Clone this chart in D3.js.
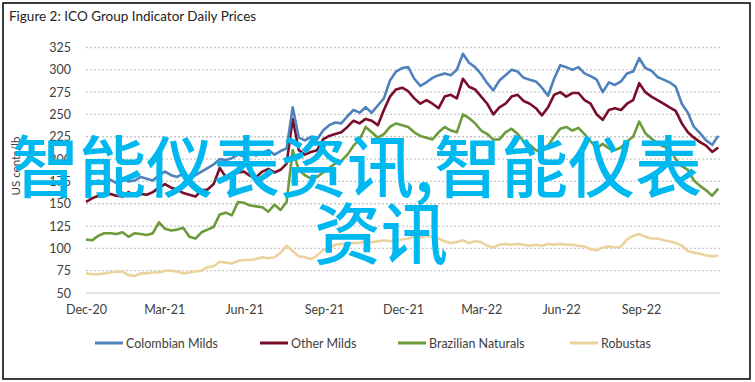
<!DOCTYPE html>
<html><head><meta charset="utf-8">
<script src="https://cdn.jsdelivr.net/npm/d3@7"></script>
<style>body{margin:0;background:#fff}svg{display:block}</style>
</head><body>
<svg id="c" width="755" height="382"></svg>
<script>
const startDate = "2020-12-01";
const seriesNames = ["Colombian Milds", "Other Milds", "Brazilian Naturals", "Robustas"];
const seriesColors = ["#4f81bd", "#7a0e2a", "#6b9b3a", "#ebd39e"];
const yTicks = [50, 75, 100, 125, 150, 175, 200, 225, 250, 275, 300, 325];
const xTickLabels = ["Dec-20","Mar-21","Jun-21","Sep-21","Dec-21","Mar-22","Jun-22","Sep-22"];
const colombianMilds = [168,172,176,174,177,173,178,175,176,180,178,176,182,186,182,180,184,178,182,186,190,194,200,199,201,205,203,206,204,207,210,205,209,212,258,224,221,225,222,232,238,241,240,248,255,252,258,252,260,268,288,298,302,303,290,282,286,291,294,296,294,300,318,308,303,295,285,277,288,294,300,298,291,289,287,280,271,290,305,303,300,303,296,293,289,275,286,283,287,296,298,313,302,299,292,289,286,281,262,252,236,229,221,216,226];
const otherMilds = [152,156,159,160,161,159,158,163,159,161,160,163,168,172,168,166,162,160,158,165,166,172,190,180,182,185,186,181,180,186,189,185,188,195,245,210,205,208,210,222,226,228,230,236,243,240,245,243,238,255,270,278,280,276,268,262,266,262,257,270,272,268,290,281,278,270,262,250,258,262,270,272,265,262,257,249,258,272,275,270,274,274,266,262,250,244,255,257,255,262,266,285,275,270,266,262,258,254,240,230,224,219,215,208,213];
const brazilianNaturals = [110,109,114,117,117,116,118,113,117,116,115,117,129,122,120,121,123,113,111,118,121,124,138,140,137,152,151,148,147,146,141,149,143,152,210,188,182,178,180,185,190,195,198,205,215,222,236,230,224,228,236,240,238,236,230,226,224,222,230,236,232,230,250,246,240,232,228,222,222,230,234,228,220,216,210,208,215,225,234,236,232,235,228,220,212,217,212,210,213,220,225,242,229,223,218,214,212,200,192,188,176,170,165,159,167];
const robustas = [72,71,71,72,73,74,74,70,69,72,72,73,73,75,75,74,72,73,74,75,79,80,85,84,83,86,87,87,88,90,89,90,95,103,97,91,90,88,92,98,100,104,105,104,106,106,108,107,108,109,108,109,110,111,113,112,114,113,111,108,106,107,109,106,108,107,103,101,104,105,104,105,104,103,104,103,105,104,105,104,104,103,102,99,98,101,102,101,102,110,114,116,113,111,111,109,108,106,103,97,95,94,92,91,92];
const seriesValues = [colombianMilds, otherMilds, brazilianNaturals, robustas];

const svg = d3.select("#c");
const font = "Lato, 'Open Sans', sans-serif";
const textCol = "#404040";

svg.append("rect").attr("x",3).attr("y",3).attr("width",747).attr("height",376)
  .attr("fill","#fff").attr("stroke","#000").attr("stroke-width",1.5);

svg.append("text").attr("x",9).attr("y",21).attr("font-family",font).attr("font-size",13.5)
  .attr("fill","#222").text("Figure 2: ICO Group Indicator Daily Prices");

const parse = d3.timeParse("%Y-%m-%d");
const t0 = parse(startDate);
const dates = colombianMilds.map((_, i) => d3.timeDay.offset(t0, 7 * i));

const x = d3.scaleTime().domain([t0, parse("2022-12-01")]).range([86, 720]);
const y = d3.scaleLinear().domain([50, 325]).range([293, 47.5]);

const grid = svg.append("g");
grid.selectAll("line").data(yTicks.filter(v => v > 50)).join("line")
  .attr("x1", 86).attr("x2", 720).attr("y1", d => y(d)).attr("y2", d => y(d))
  .attr("stroke", "#c8c8c8").attr("stroke-width", 1.3).attr("stroke-dasharray", "2,2");

const yAxis = svg.append("g").attr("transform", "translate(86,0)")
  .call(d3.axisLeft(y).tickValues(yTicks).tickSize(0).tickPadding(15));
yAxis.select(".domain").remove();
yAxis.selectAll("text").attr("font-family", font).attr("font-size", 12.5).attr("fill", textCol);

svg.append("line").attr("x1", 86).attr("x2", 720).attr("y1", y(50)).attr("y2", y(50))
  .attr("stroke", "#d9d9d9").attr("stroke-width", 1.3);

const xTickDates = xTickLabels.map(s => d3.timeParse("%b-%y")(s));
const xAxis = svg.append("g").attr("transform", `translate(0,${y(50)})`)
  .call(d3.axisBottom(x).tickValues(xTickDates).tickFormat(d3.timeFormat("%b-%y")).tickSize(0).tickPadding(12));
xAxis.select(".domain").remove();
xAxis.selectAll("text").attr("font-family", font).attr("font-size", 12.5).attr("fill", textCol);

svg.append("text").attr("transform", "translate(20,166) rotate(-90)").attr("text-anchor", "middle")
  .attr("font-family", font).attr("font-size", 11.5).attr("fill", textCol).text("US cents/lb");

const line = d3.line().x((d, i) => x(dates[i])).y(d => y(d));
const order = [3, 2, 1, 0];
svg.append("g").selectAll("path").data(order).join("path")
  .attr("d", k => line(seriesValues[k]))
  .attr("fill", "none").attr("stroke", k => seriesColors[k]).attr("stroke-width", 2.6)
  .attr("stroke-linejoin", "round");

const legX = [95, 260, 398, 570];
const leg = svg.append("g");
seriesNames.forEach((n, i) => {
  leg.append("line").attr("x1", legX[i]).attr("x2", legX[i] + 28).attr("y1", 343).attr("y2", 343)
    .attr("stroke", seriesColors[i]).attr("stroke-width", 3);
  leg.append("text").attr("x", legX[i] + 31).attr("y", 347.5).attr("font-family", font)
    .attr("font-size", 12.5).attr("fill", textCol).text(n);
});

const wm = svg.append("g").attr("font-family", "'Noto Sans CJK SC', sans-serif").attr("font-size", 67)
  .attr("font-weight", 500).attr("fill", "#00b8f0");
wm.append("text").attr("x", 12).attr("y", 192).text("智能仪表资讯,智能仪表");
wm.append("text").attr("x", 314).attr("y", 259).text("资讯");
</script>
</body></html>
